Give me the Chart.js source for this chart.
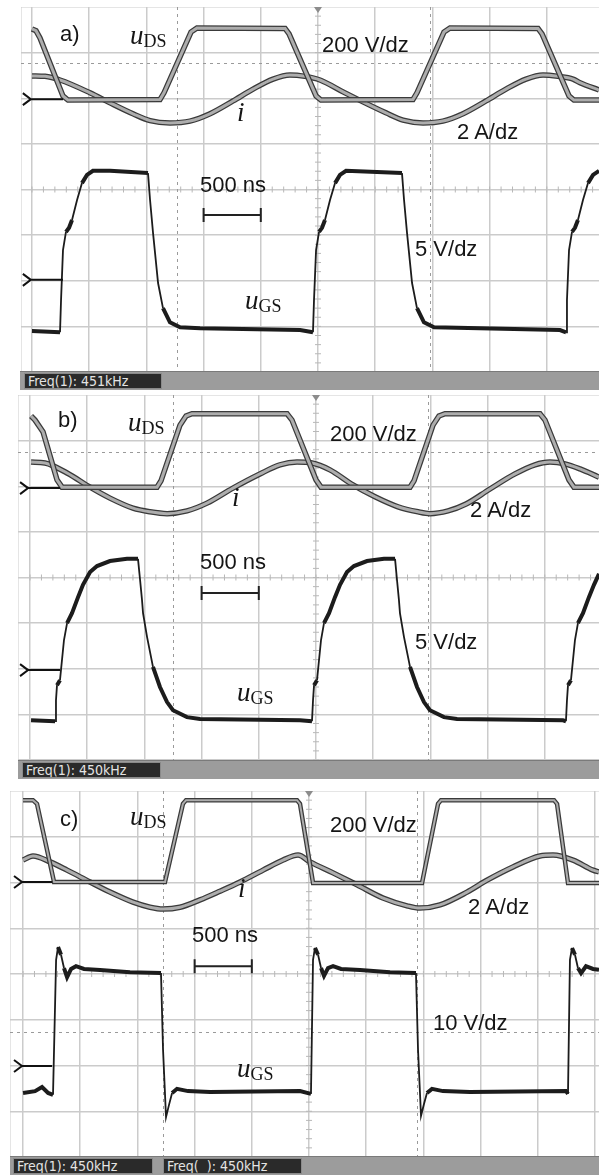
<!DOCTYPE html>
<html>
<head>
<meta charset="utf-8">
<script src="https://cdn.jsdelivr.net/npm/chart.js@4.4.0/dist/chart.umd.min.js"></script>
<style>
body { margin:0; background:#fff; width:599px; height:1175px; overflow:hidden; position:relative; font-family:"Liberation Sans", Arial, sans-serif; }
.panel { position:absolute; }
.bar { position:absolute; height:19px; background:#9c9c9c; border-top:1px solid #7a7a7a; box-sizing:border-box; }
.box { position:absolute; top:1px; height:16px; background:#2a2a2a; border:1px solid #8a8a8a; box-sizing:border-box; color:#e4e4e4;
       font:14px "DejaVu Sans Condensed", "Liberation Sans Narrow", sans-serif; line-height:14px; padding-left:3px; white-space:nowrap; overflow:hidden; }
.lbl { position:absolute; font-size:22px; line-height:22px; color:#151515; white-space:nowrap; }
.sym { position:absolute; font-family:"Liberation Serif", "DejaVu Serif", serif; font-size:27px; line-height:27px; color:#151515; white-space:nowrap; }
.sym i { font-style:italic; }
.sym .sub { font-size:18px; font-style:normal; position:relative; top:3px; }
</style>
</head>
<body>

<div class="panel" style="left:21px;top:7px"><canvas id="ca" width="578" height="365"></canvas></div>
<div class="panel" style="left:18px;top:395px"><canvas id="cb" width="581" height="365"></canvas></div>
<div class="panel" style="left:10px;top:791px"><canvas id="cc" width="589" height="366"></canvas></div>

<div class="bar" style="left:20px;top:371px;width:579px"><div class="box" style="left:4px;width:138px">Freq(1): 451kHz</div></div>
<div class="bar" style="left:18px;top:760px;width:581px"><div class="box" style="left:4px;width:139px">Freq(1): 450kHz</div></div>
<div class="bar" style="left:10px;top:1156px;width:589px">
  <div class="box" style="left:3px;width:140px">Freq(1): 450kHz</div>
  <div class="box" style="left:153px;width:139px">Freq(&nbsp;&nbsp;): 450kHz</div>
</div>

<!-- a) -->
<div class="lbl" style="left:60px;top:23px">a)</div>
<div class="sym" style="left:130px;top:22px"><i>u</i><span class="sub">DS</span></div>
<div class="lbl" style="left:322px;top:34px">200 V/dz</div>
<div class="sym" style="left:237px;top:99px"><i>i</i></div>
<div class="lbl" style="left:457px;top:121px">2 A/dz</div>
<div class="lbl" style="left:200px;top:174px">500 ns</div>
<div class="lbl" style="left:415px;top:238px">5 V/dz</div>
<div class="sym" style="left:245px;top:287px"><i>u</i><span class="sub">GS</span></div>

<!-- b) -->
<div class="lbl" style="left:58px;top:409px">b)</div>
<div class="sym" style="left:128px;top:409px"><i>u</i><span class="sub">DS</span></div>
<div class="lbl" style="left:330px;top:423px">200 V/dz</div>
<div class="sym" style="left:232px;top:484px"><i>i</i></div>
<div class="lbl" style="left:470px;top:499px">2 A/dz</div>
<div class="lbl" style="left:200px;top:551px">500 ns</div>
<div class="lbl" style="left:415px;top:631px">5 V/dz</div>
<div class="sym" style="left:237px;top:679px"><i>u</i><span class="sub">GS</span></div>

<!-- c) -->
<div class="lbl" style="left:60px;top:808px">c)</div>
<div class="sym" style="left:130px;top:803px"><i>u</i><span class="sub">DS</span></div>
<div class="lbl" style="left:330px;top:814px">200 V/dz</div>
<div class="sym" style="left:238px;top:875px"><i>i</i></div>
<div class="lbl" style="left:468px;top:896px">2 A/dz</div>
<div class="lbl" style="left:192px;top:924px">500 ns</div>
<div class="lbl" style="left:433px;top:1012px">10 V/dz</div>
<div class="sym" style="left:237px;top:1055px"><i>u</i><span class="sub">GS</span></div>

<script>
// time in ns (500 ns/div, 0 = trigger), values in screen divisions (0 = centre line)
const xTicks = [-2500, -2000, -1500, -1000, -500, 0, 500, 1000, 1500, 2000, 2500];
const yTicks = [-4, -3, -2, -1, 0, 1, 2, 3, 4];

// a)
const uDS_a = [[-2500,3.52],[-2465,3.48],[-2430,3.32],[-2229,2.05],[-2185,1.96],[-1381,1.97],[-1346,2.12],[-1110,3.45],[-1058,3.54],
  [-288,3.53],[-253,3.41],[-17,2.05],[26,1.96],[830,1.97],[865,2.12],[1101,3.45],[1154,3.54],[1923,3.53],[1958,3.41],[2194,2.05],[2237,1.96],[2456,1.96]];
const i_a = [[-2500,2.49],[-2386,2.48],[-2255,2.40],[-1993,2.12],[-1818,1.90],[-1617,1.66],[-1468,1.51],[-1294,1.46],[-1119,1.50],[-944,1.66],
  [-743,1.94],[-568,2.20],[-393,2.42],[-245,2.51],[-114,2.48],[17,2.40],[219,2.14],[393,1.92],[594,1.68],[743,1.52],[918,1.46],[1092,1.50],
  [1267,1.66],[1468,1.94],[1643,2.20],[1818,2.42],[1967,2.51],[2098,2.48],[2229,2.42],[2290,2.34],[2456,2.18]];
const uGS_a = [[-2500,-3.10],[-2255,-3.13],[-2246,-2.42],[-2229,-1.33],[-2203,-0.93],[-2176,-0.84],[-2150,-0.67],[-2106,-0.23],[-2063,0.14],
  [-2019,0.32],[-1967,0.41],[-1818,0.41],[-1486,0.36],[-1468,-0.23],[-1442,-0.95],[-1398,-2.05],[-1355,-2.60],[-1294,-2.91],[-1206,-3.02],
  [-1031,-3.04],[-157,-3.08],[-44,-3.13],[-35,-2.42],[-17,-1.33],[9,-0.93],[35,-0.84],[61,-0.67],[105,-0.23],[149,0.14],[192,0.32],[245,0.41],
  [734,0.36],[752,-0.23],[778,-0.95],[822,-2.05],[865,-2.60],[926,-2.91],[1014,-3.02],[2115,-3.08],[2168,-3.13],[2176,-2.42],[2194,-1.33],
  [2220,-0.93],[2246,-0.84],[2272,-0.67],[2316,-0.23],[2360,0.14],[2404,0.32],[2456,0.41]];

// b)
const uDS_b = [[-2491,3.54],[-2456,3.45],[-2386,3.19],[-2264,2.14],[-2220,1.98],[-1390,1.98],[-1355,2.12],[-1189,3.34],[-1136,3.54],[-1084,3.59],
  [-253,3.59],[-210,3.45],[0,2.14],[44,1.98],[822,1.98],[857,2.12],[1023,3.34],[1075,3.54],[1128,3.59],[1958,3.59],[2002,3.45],[2211,2.14],[2255,1.98],[2474,1.98]];
const i_b = [[-2491,2.53],[-2369,2.51],[-2176,2.29],[-1975,1.98],[-1801,1.74],[-1600,1.52],[-1451,1.44],[-1302,1.40],[-1128,1.46],[-953,1.63],
  [-726,1.96],[-490,2.27],[-315,2.47],[-166,2.53],[-35,2.51],[122,2.36],[323,2.03],[516,1.77],[717,1.55],[892,1.44],[996,1.40],[1154,1.46],
  [1311,1.61],[1521,1.94],[1739,2.27],[1914,2.47],[2045,2.53],[2177,2.49],[2308,2.38],[2474,2.20]];
const uGS_b = [[-2491,-3.13],[-2281,-3.15],[-2273,-2.69],[-2264,-2.36],[-2238,-2.25],[-2203,-1.37],[-2176,-1.00],[-2133,-0.78],[-2080,-0.43],
  [-2037,-0.16],[-1975,0.12],[-1914,0.25],[-1801,0.36],[-1652,0.41],[-1556,0.41],[-1538,-0.05],[-1521,-0.49],[-1512,-0.78],[-1477,-1.30],
  [-1425,-1.96],[-1364,-2.40],[-1302,-2.73],[-1250,-2.91],[-1128,-3.06],[-1014,-3.10],[-140,-3.13],[-35,-3.15],[-26,-2.69],[-17,-2.36],[9,-2.25],
  [44,-1.37],[70,-1.00],[114,-0.78],[166,-0.43],[210,-0.16],[271,0.12],[332,0.25],[446,0.36],[594,0.41],[691,0.41],[708,-0.05],[725,-0.49],
  [734,-0.78],[769,-1.30],[822,-1.96],[883,-2.40],[944,-2.73],[996,-2.91],[1119,-3.06],[1233,-3.10],[2159,-3.13],[2185,-3.15],[2194,-2.69],
  [2203,-2.36],[2229,-2.25],[2264,-1.37],[2290,-1.00],[2334,-0.78],[2386,-0.43],[2430,-0.16],[2474,0.08]];

// c)
const uDS_c = [[-2500,3.80],[-2413,3.80],[-2378,3.72],[-2229,2.01],[-1259,2.01],[-1102,3.72],[-1075,3.80],[-105,3.80],[-79,3.72],[35,1.99],
  [988,1.99],[1128,3.72],[1154,3.80],[2142,3.80],[2168,3.72],[2264,1.99],[2535,1.99]];
const i_c = [[-2500,2.49],[-2413,2.58],[-2264,2.45],[-2115,2.27],[-1914,2.01],[-1739,1.79],[-1538,1.57],[-1390,1.46],[-1276,1.42],[-1128,1.46],
  [-953,1.62],[-778,1.81],[-603,2.01],[-402,2.27],[-227,2.49],[-96,2.60],[9,2.45],[210,2.21],[420,1.95],[647,1.66],[857,1.49],[970,1.44],
  [1145,1.51],[1381,1.79],[1556,2.05],[1783,2.34],[2019,2.58],[2133,2.60],[2308,2.49],[2483,2.27],[2535,2.23]];
const uGS_c = [[-2500,-2.60],[-2395,-2.56],[-2334,-2.47],[-2281,-2.60],[-2238,-2.64],[-2211,0.31],[-2194,0.59],[-2168,0.42],[-2142,0.13],
  [-2115,-0.07],[-2080,0.11],[-2037,0.17],[-1967,0.11],[-1827,0.09],[-1565,0.04],[-1294,0.02],[-1276,-1.66],[-1250,-3.13],[-1224,-2.86],
  [-1197,-2.60],[-1154,-2.51],[-1058,-2.56],[-865,-2.58],[-79,-2.56],[17,-2.62],[35,0.31],[52,0.57],[79,0.42],[105,0.13],[131,-0.04],
  [166,0.13],[210,0.17],[280,0.11],[446,0.09],[708,0.04],[935,0.02],[953,-1.66],[979,-3.10],[1005,-2.84],[1031,-2.60],[1075,-2.51],
  [1171,-2.56],[1407,-2.58],[2246,-2.56],[2264,-2.62],[2281,0.31],[2299,0.57],[2325,0.42],[2351,0.13],[2378,0.02],[2421,0.17],[2483,0.11],[2535,0.09]];

function toXY(pts) {
  return pts.map(p => ({ x: p[0], y: p[1] }));
}

// cursors, ground markers and the 500 ns bar
function scopePlugin(p) {
  return {
    id: 'scope',
    beforeDatasetsDraw(chart) {
      const { ctx, chartArea: a, scales: { x, y } } = chart;
      const x0 = x.getPixelForValue(0), y0 = y.getPixelForValue(0);
      ctx.save();
      ctx.strokeStyle = '#b8b8b8';
      ctx.lineWidth = 1;
      ctx.beginPath();
      for (let t = -2500; t <= 2500; t += 100) {
        const px = x.getPixelForValue(t);
        if (px < a.left || px > a.right) continue;
        ctx.moveTo(px, y0 - 3); ctx.lineTo(px, y0 + 3);
      }
      for (let v = -4; v <= 4; v += 0.2) {
        const py = y.getPixelForValue(v);
        ctx.moveTo(x0 - 3, py); ctx.lineTo(x0 + 3, py);
      }
      ctx.stroke();
      ctx.setLineDash([3, 4]);
      ctx.strokeStyle = '#9a9a9a';
      ctx.beginPath();
      p.cursorsX.forEach(t => {
        const px = Math.round(x.getPixelForValue(t)) + 0.5;
        ctx.moveTo(px, a.top); ctx.lineTo(px, a.bottom);
      });
      p.cursorsY.forEach(v => {
        const py = Math.round(y.getPixelForValue(v)) + 0.5;
        ctx.moveTo(a.left, py); ctx.lineTo(a.right, py);
      });
      ctx.stroke();
      ctx.restore();
    },
    afterDatasetsDraw(chart) {
      const { ctx, chartArea: a, scales: { x, y } } = chart;
      ctx.save();
      // ground markers
      ctx.strokeStyle = '#111';
      ctx.lineWidth = 2;
      p.grounds.forEach(g => {
        const py = y.getPixelForValue(g), xt = x.getPixelForValue(p.gTip), xe = x.getPixelForValue(p.gEnd);
        ctx.beginPath();
        ctx.moveTo(xt - 8, py - 6); ctx.lineTo(xt, py); ctx.lineTo(xt - 8, py + 6);
        ctx.moveTo(xt, py); ctx.lineTo(xe, py);
        ctx.stroke();
      });
      // time scale bar
      const b0 = x.getPixelForValue(p.bar[0]), b1 = x.getPixelForValue(p.bar[1]), by = y.getPixelForValue(p.barV);
      ctx.strokeStyle = '#222';
      ctx.lineWidth = 2;
      ctx.beginPath();
      ctx.moveTo(b0, by); ctx.lineTo(b1, by);
      ctx.moveTo(b0, by - 7); ctx.lineTo(b0, by + 7);
      ctx.moveTo(b1, by - 7); ctx.lineTo(b1, by + 7);
      ctx.stroke();
      // trigger marker
      const tx = x.getPixelForValue(0);
      ctx.fillStyle = '#8c8c8c';
      ctx.beginPath();
      ctx.moveTo(tx - 4, a.top); ctx.lineTo(tx + 4, a.top); ctx.lineTo(tx, a.top + 6);
      ctx.fill();
      ctx.restore();
    }
  };
}

function scopeChart(id, xr, uDS, iT, uGS, dsWidth, extras) {
  const common = { pointRadius: 0, fill: false, tension: 0 };
  const datasets = [
    { data: toXY(iT), borderColor: '#3a3a3a', borderWidth: 5.5, order: 5, cubicInterpolationMode: 'monotone', ...common },
    { data: toXY(iT), borderColor: '#adadad', borderWidth: 3, order: 4, cubicInterpolationMode: 'monotone', ...common },
    { data: toXY(uDS), borderColor: '#3a3a3a', borderWidth: dsWidth + 2.5, order: 3, ...common },
    { data: toXY(uDS), borderColor: '#adadad', borderWidth: dsWidth, order: 2, ...common },
    { data: toXY(uGS), borderColor: '#1c1c1c', borderWidth: 4, order: 1, ...common,
      segment: { borderWidth: c => Math.abs(c.p1.y - c.p0.y) > 3 * Math.abs(c.p1.x - c.p0.x) ? 1.8 : 4 } }
  ];
  const grid = { color: '#cbcbcb', lineWidth: 1.5, drawTicks: false };
  return new Chart(document.getElementById(id), {
    type: 'line',
    data: { datasets: datasets },
    options: {
      responsive: false,
      animation: false,
      events: [],
      layout: { padding: 0 },
      plugins: { legend: { display: false }, tooltip: { enabled: false } },
      scales: {
        x: {
          type: 'linear', min: xr[0], max: xr[1],
          afterBuildTicks: s => { s.ticks = [xr[0]].concat(xTicks.filter(v => v > xr[0] && v < xr[1])).map(v => ({ value: v })); },
          ticks: { display: false }, grid: grid, border: { display: false }
        },
        y: {
          type: 'linear', min: -4, max: 4,
          afterBuildTicks: s => { s.ticks = yTicks.map(v => ({ value: v })); },
          ticks: { display: false }, grid: grid, border: { display: false }
        }
      }
    },
    plugins: [scopePlugin(extras)]
  });
}

scopeChart('ca', [-2596, 2456], uDS_a, i_a, uGS_a, 3,
  { cursorsX: [-1232, 979], cursorsY: [2.77], grounds: [1.98, -1.98], gTip: -2510, gEnd: -2229, bar: [-1000, -500], barV: -0.56 });
scopeChart('cb', [-2605, 2474], uDS_b, i_b, uGS_b, 3,
  { cursorsX: [-1250, 979], cursorsY: [2.75], grounds: [1.96, -2.03], gTip: -2517, gEnd: -2238, bar: [-1000, -500], barV: -0.34 });
scopeChart('cc', [-2614, 2535], uDS_c, i_c, uGS_c, 2,
  { cursorsX: [-1276, 944], cursorsY: [-1.27], grounds: [2.01, -2.01], gTip: -2509, gEnd: -2246, bar: [-1000, -500], barV: 0.17 });
</script>
</body>
</html>
